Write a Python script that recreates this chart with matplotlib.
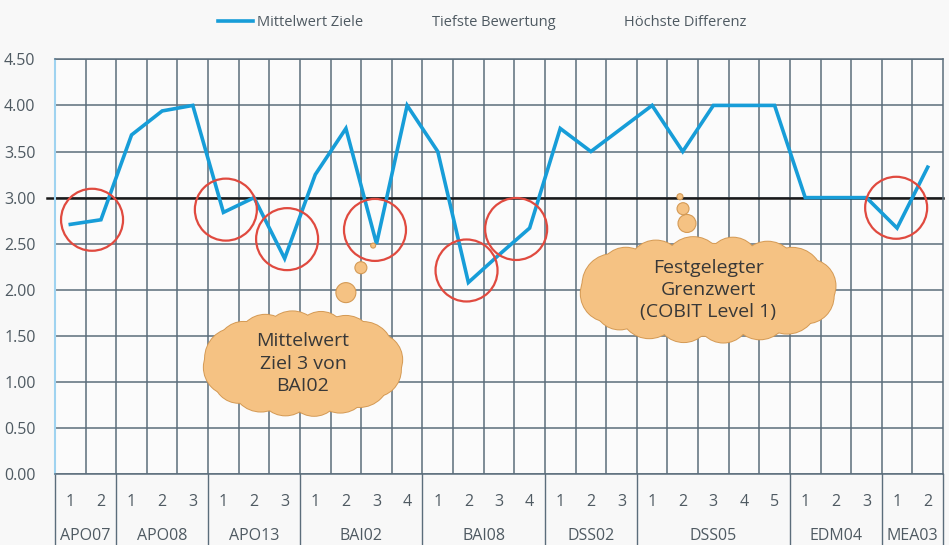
import numpy as np
import matplotlib.pyplot as plt
import matplotlib.transforms as mtransforms
from matplotlib.patches import Ellipse
from matplotlib.lines import Line2D

plt.rcParams["font.family"] = ["Open Sans", "DejaVu Sans"]

# --- data ---------------------------------------------------------------
groups = ["APO07", "APO08", "APO13", "BAI02", "BAI08", "DSS02", "DSS05", "EDM04", "MEA03"]
group_sizes = [2, 3, 3, 4, 4, 3, 5, 3, 2]
mittelwert_ziele = [2.71, 2.76, 3.68, 3.94, 4.00,
                    2.84, 3.00, 2.34,
                    3.25, 3.75, 2.50, 4.00,
                    3.50, 2.08, 2.38, 2.67,
                    3.75, 3.50, 3.75,
                    4.00, 3.50, 4.00, 4.00, 4.00,
                    3.00, 3.00, 3.00,
                    2.67, 3.33]
grenzwert = 3.0
y_ticks = [0.0, 0.5, 1.0, 1.5, 2.0, 2.5, 3.0, 3.5, 4.0, 4.5]

# red highlight circles (category position, value)
highlights = [(0.71, 2.76), (5.08, 2.87), (7.08, 2.55), (9.95, 2.65),
              (12.94, 2.21), (14.56, 2.66), (26.97, 2.89)]

# thought clouds: centre (category position, value), size in px, text
clouds = [
    dict(x=7.6, y=1.20, w=200, h=105, text="Mittelwert\nZiel 3 von\nBAI02",
         bubbles=[(9.0, 1.97, 10), (9.49, 2.24, 6), (9.89, 2.48, 2.5)]),
    dict(x=20.83, y=2.00, w=257, h=106, text="Festgelegter\nGrenzwert\n(COBIT Level 1)",
         bubbles=[(20.14, 2.72, 9), (20.01, 2.88, 6), (19.91, 3.01, 3)]),
]

# --- colours -------------------------------------------------------------
BLUE = "#179dd8"
GRID = "#5b6d7b"
TXT = "#4f5a62"
RED = "#e04a3f"
CLOUD_FILL = "#f5c283"
CLOUD_EDGE = "#d49a55"

W, H = 949, 545
fig = plt.figure(figsize=(W / 100, H / 100), dpi=100, facecolor="#f8f8f8")
left_px, right_px, top_px, bottom_px = 55, 943, 59.3, 474.3
ax = fig.add_axes([left_px / W, 1 - bottom_px / H,
                   (right_px - left_px) / W, (bottom_px - top_px) / H])
ax.set_facecolor("#fbfbfb")

n = len(mittelwert_ziele)
x = np.arange(n)
ax.set_xlim(-0.5, n - 0.5)
ax.set_ylim(0, 4.5)
ppx = (right_px - left_px) / n          # pixels per category
ppy = (bottom_px - top_px) / 4.5        # pixels per unit

# grid
ax.set_yticks(y_ticks)
ax.set_yticklabels([f"{v:.2f}" for v in y_ticks], color=TXT, fontsize=11.5)
ax.set_xticks(np.arange(0.5, n - 1, 1.0), minor=True)
ax.grid(True, axis="y", which="major", color=GRID, lw=1.1, zorder=1)
ax.grid(True, axis="x", which="minor", color=GRID, lw=1.1, zorder=1)
ax.tick_params(axis="y", length=0, pad=14)
ax.tick_params(axis="x", which="both", length=0)
ax.set_axisbelow(True)
for side in ["top", "right", "bottom"]:
    ax.spines[side].set_color(GRID)
    ax.spines[side].set_linewidth(1.1)
ax.spines["left"].set_color("#9fd3f0")
ax.spines["left"].set_linewidth(1.5)

# inner x labels (numbers within group)
inner_labels = [str(i + 1) for s in group_sizes for i in range(s)]
ax.set_xticks(x)
ax.set_xticklabels(inner_labels, color=TXT, fontsize=11.5)
ax.tick_params(axis="x", pad=14)

# group labels and separators
trans = mtransforms.blended_transform_factory(ax.transData, ax.transAxes)
label_depth = (H - bottom_px) / (bottom_px - top_px)
start = 0
bounds = [-0.5]
for g, s in zip(groups, group_sizes):
    centre = start + (s - 1) / 2
    ax.text(centre, -62 / (bottom_px - top_px), g, transform=trans,
            ha="center", va="center", color=TXT, fontsize=11.5)
    start += s
    bounds.append(start - 0.5)
for b in bounds:
    ax.plot([b, b], [0, -label_depth], transform=trans, color=GRID,
            lw=1.0, clip_on=False, zorder=1)

# threshold line
ax.axhline(grenzwert, xmin=-8 / (right_px - left_px), color="#1a1a1a", lw=1.8,
           zorder=2, clip_on=False)

# data line
ax.plot(x, mittelwert_ziele, color=BLUE, lw=2.6, zorder=3,
        solid_joinstyle="miter")

# highlight circles
r = 31
for cx, cy in highlights:
    ax.add_patch(Ellipse((cx, cy), 2 * r / ppx, 2 * r / ppy, fill=False,
                         edgecolor=RED, lw=1.6, zorder=4))


# thought clouds
def draw_cloud(c):
    cx, cy, w, h = c["x"], c["y"], c["w"], c["h"]
    bump_r = [26, 30, 28, 25, 29, 27, 26, 30, 28, 25, 29, 27, 26, 28, 30, 27]
    k = len(bump_r)
    ang = np.linspace(0, 2 * np.pi, k, endpoint=False) + 0.15
    shapes = []
    for a, br in zip(ang, bump_r):
        rr = br * h / 105
        px = (w / 2 - rr) * np.cos(a)
        py = (h / 2 - rr) * np.sin(a)
        shapes.append(((cx + px / ppx, cy + py / ppy), 2 * rr / ppx, 2 * rr / ppy))
    shapes.append(((cx, cy), (w - 14) / ppx, (h - 14) / ppy))
    for ec, lw, z in [(CLOUD_EDGE, 1.4, 5), ("none", 0, 6)]:
        for centre, ew, eh in shapes:
            ax.add_patch(Ellipse(centre, ew, eh, facecolor=CLOUD_FILL,
                                 edgecolor=ec, lw=lw, zorder=z))
    for bx, by, br in c["bubbles"]:
        ax.add_patch(Ellipse((bx, by), 2 * br / ppx, 2 * br / ppy,
                             facecolor=CLOUD_FILL, edgecolor=CLOUD_EDGE,
                             lw=0.8, zorder=6))
    ax.text(cx, cy, c["text"], ha="center", va="center", fontsize=14,
            color="#383838", linespacing=1.3, zorder=7)


for c in clouds:
    draw_cloud(c)

# legend (two series are empty in the original)
handles = [Line2D([], [], color=BLUE, lw=2.6),
           Line2D([], [], color="none"),
           Line2D([], [], color="none")]
labels = ["Mittelwert Ziele", "Tiefste Bewertung", "Höchste Differenz"]
leg = fig.legend(handles, labels, loc="center", bbox_to_anchor=(482 / W, 1 - 23 / H),
                 ncol=3, frameon=False, handlelength=2.4, handletextpad=0.3,
                 columnspacing=2.0, fontsize=10.5)
for t in leg.get_texts():
    t.set_color(TXT)

fig.savefig("out.png", dpi=100, facecolor=fig.get_facecolor())
